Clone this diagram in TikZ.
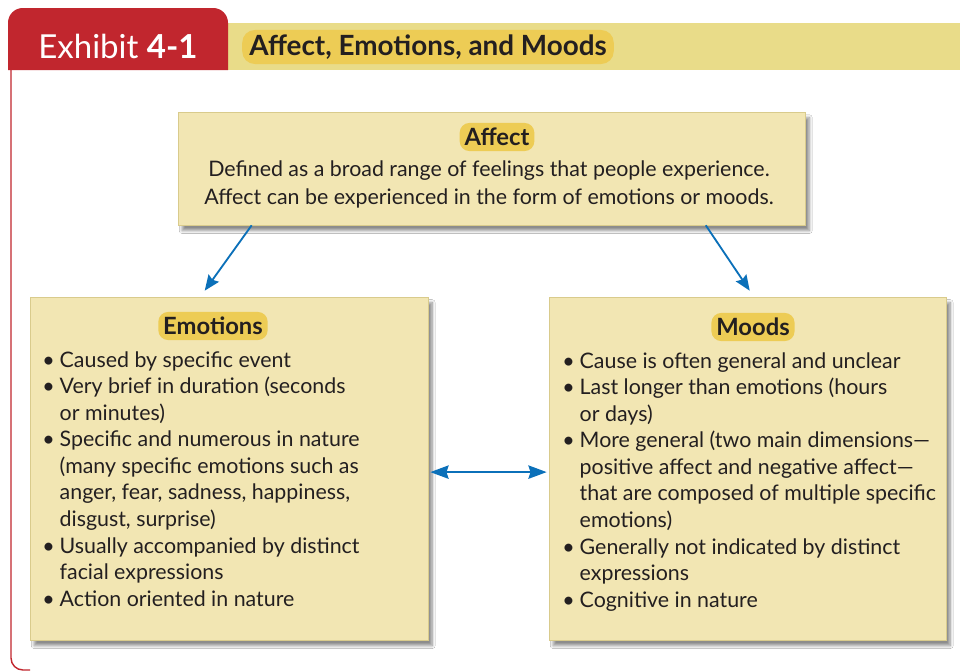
\documentclass[tikz,border=0pt]{standalone}
\usepackage{fontspec}
\setmainfont{Lato}
\usetikzlibrary{arrows.meta,shadows.blur}
\definecolor{exred}{HTML}{C1262E}
\definecolor{bandyellow}{HTML}{E9DC89}
\definecolor{pillyellow}{HTML}{EDCC55}
\definecolor{cardfill}{HTML}{F2E6B3}
\definecolor{cardedge}{HTML}{D9CB8C}
\definecolor{arrowblue}{HTML}{0B70B9}
\definecolor{textdark}{HTML}{231F20}
\newcommand{\bul}{\makebox[12.4pt][l]{\textbullet}}
\newcommand{\cont}{\hspace*{12.4pt}}
\tikzstyle{basic arrow}=[draw=arrowblue, line width=1.3pt, -{Stealth[length=11pt,width=9pt,inset=1.5pt]}]
\tikzstyle{both arrow}=[draw=arrowblue, line width=1.3pt, {Stealth[length=13pt,width=9.5pt,inset=1.5pt]}-{Stealth[length=13pt,width=9.5pt,inset=1.5pt]}]
\tikzstyle{card}=[fill=cardfill, draw=cardedge, line width=0.4pt, inner sep=0pt, blur shadow={shadow xshift=3pt, shadow yshift=-4pt, shadow blur steps=8, shadow opacity=45}]
\tikzstyle{pill}=[fill=pillyellow, rounded corners=7pt, inner xsep=3.5pt, inner ysep=0pt, minimum height=20pt, font=\fontsize{16.9}{19}\selectfont\bfseries, text=textdark]
\tikzstyle{body}=[inner sep=0pt, align=left, anchor=north west, font=\fontsize{15.2}{18.9}\selectfont, text=textdark]

\begin{document}
\begin{tikzpicture}[x=0.025cm, y=-0.025cm]
	\useasboundingbox [fill=white] (0,0) rectangle (960,671);

	\fill [bandyellow] (228,23) rectangle (960,70);
	\fill [exred] (8,70) [rounded corners=10.5pt] -- (8,8) -- (228,8) [sharp corners] -- (228,70) -- cycle;
	\draw [exred, line width=1pt] (11,70) [rounded corners=8.5pt] -- (11,670) -- (30,670);
	\node [anchor=west, text=white, font=\fontsize{23.5}{26}\selectfont, inner sep=0pt] (title) at (38,46) {Exhibit \textbf{4-1}};
	\node [fill=pillyellow, rounded corners=9pt, inner xsep=5pt, minimum height=23pt, text=textdark, font=\fontsize{19.8}{22}\selectfont\bfseries] (head) at (428,47) {Affect, Emotions, and Moods};

	\node [card, minimum width=15.675cm, minimum height=2.825cm] (0) at (491.5,168.5) {};
	\node [card, minimum width=9.95cm, minimum height=8.575cm] (1) at (229,468.5) {};
	\node [card, minimum width=9.925cm, minimum height=8.575cm] (2) at (747.5,468.5) {};

	\node [pill] (0h) at (497,137) {Affect};
	\node [pill] (1h) at (213,326) {Emotions};
	\node [pill] (2h) at (753,327) {Moods};

	\node [body, align=center, anchor=north, font=\fontsize{15.2}{19.9}\selectfont] (0t) at (489,160) {Defined as a broad range of feelings that people experience.\\Affect can be experienced in the form of emotions or moods.};
	\node [body] (1t) at (42,351) {\bul Caused by specific event\\
		\bul Very brief in duration (seconds\\
		\cont or minutes)\\
		\bul Specific and numerous in nature\\
		\cont (many specific emotions such as\\
		\cont anger, fear, sadness, happiness,\\
		\cont disgust, surprise)\\
		\bul Usually accompanied by distinct\\
		\cont facial expressions\\
		\bul Action oriented in nature};
	\node [body] (2t) at (562,352) {\bul Cause is often general and unclear\\
		\bul Last longer than emotions (hours\\
		\cont or days)\\
		\bul More general (two main dimensions---\\
		\cont positive affect and negative affect---\\
		\cont that are composed of multiple specific\\
		\cont emotions)\\
		\bul Generally not indicated by distinct\\
		\cont expressions\\
		\bul Cognitive in nature};

	\draw [style=basic arrow] ([xshift=1.85cm]0.south west) to ([xshift=4.375cm, yshift=0.15cm]1.north west);
	\draw [style=basic arrow] ([xshift=13.2cm]0.south west) to ([xshift=5.025cm, yshift=0.15cm]2.north west);
	\draw [style=both arrow] ([xshift=0.05cm, yshift=-0.09cm]1.east) to ([xshift=-0.05cm, yshift=-0.09cm]2.west);

\end{tikzpicture}
\end{document}
